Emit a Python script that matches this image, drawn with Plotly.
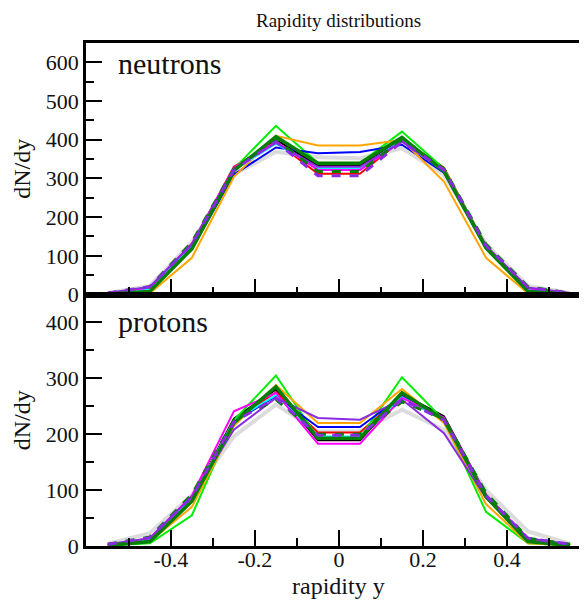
import plotly.graph_objects as go
from plotly.subplots import make_subplots

# rapidity bin centres
rapidity = [-0.55, -0.45, -0.35, -0.25, -0.15, -0.05, 0.05, 0.15, 0.25, 0.35, 0.45, 0.55]

# x tick labels
x_tickvals = [-0.4, -0.2, 0, 0.2, 0.4]
x_ticktext = ["-0.4", "-0.2", "0", "0.2", "0.4"]
x_minorvals = [-0.5, -0.3, -0.1, 0.1, 0.3, 0.5]

# neutrons dN/dy, one list per model
n_gray = [4, 22, 135, 310, 369, 355, 352, 378, 310, 130, 22, 4]
n_black = [2, 15, 125, 322, 400, 333, 333, 405, 320, 122, 14, 2]
n_red = [2, 16, 128, 330, 395, 312, 312, 400, 328, 125, 15, 2]
n_lime = [1, 10, 120, 325, 436, 340, 340, 421, 325, 128, 12, 1]
n_blue = [2, 14, 118, 310, 380, 365, 368, 387, 315, 120, 13, 2]
n_orange = [0, 3, 95, 304, 410, 385, 385, 399, 292, 95, 3, 0]
n_cyan = [2, 15, 125, 322, 390, 326, 326, 398, 318, 122, 14, 2]
n_magenta = [3, 18, 132, 328, 395, 322, 322, 396, 322, 126, 16, 3]
n_purple = [4, 20, 130, 325, 392, 330, 330, 395, 320, 124, 18, 4]
n_dkgreen = [1, 8, 118, 320, 408, 339, 339, 406, 318, 120, 8, 1]
n_dkgreen_dash = [3, 20, 135, 325, 400, 318, 318, 400, 325, 130, 20, 3]
n_purple_dash = [4, 20, 130, 322, 395, 307, 307, 395, 322, 126, 18, 4]

# protons dN/dy
p_gray = [4, 23, 91, 196, 253, 205, 205, 244, 208, 100, 26, 4]
p_black = [2, 12, 85, 228, 280, 189, 189, 272, 232, 92, 12, 2]
p_red = [2, 13, 84, 225, 275, 203, 203, 270, 228, 90, 12, 2]
p_lime = [1, 5, 55, 225, 305, 193, 193, 302, 225, 61, 5, 1]
p_blue = [2, 12, 82, 222, 268, 213, 213, 268, 224, 88, 12, 2]
p_orange = [1, 8, 70, 215, 288, 220, 220, 281, 220, 75, 5, 1]
p_cyan = [2, 12, 84, 224, 270, 196, 196, 266, 226, 90, 12, 2]
p_magenta = [2, 14, 90, 241, 274, 183, 183, 265, 230, 92, 13, 2]
p_purple = [3, 14, 88, 208, 265, 229, 226, 262, 202, 86, 14, 3]
p_dkgreen = [1, 8, 80, 220, 285, 193, 193, 274, 226, 88, 8, 1]
p_dkgreen_dash = [3, 16, 92, 225, 262, 200, 200, 258, 228, 95, 14, 3]
p_purple_dash = [3, 15, 88, 222, 265, 198, 198, 262, 225, 90, 14, 3]

# (color, width, dash) per model
styles = [
    ("#dcdcdc", 4, "solid"),
    ("black", 2, "solid"),
    ("red", 2, "solid"),
    ("#00ee00", 2, "solid"),
    ("blue", 2, "solid"),
    ("orange", 2, "solid"),
    ("cyan", 2, "solid"),
    ("magenta", 2, "solid"),
    ("#8a2be2", 2, "solid"),
    ("#007f00", 3.5, "solid"),
    ("#007f00", 3, "dash"),
    ("#8a2be2", 3, "dash"),
]
neutrons = [n_gray, n_black, n_red, n_lime, n_blue, n_orange, n_cyan,
            n_magenta, n_purple, n_dkgreen, n_dkgreen_dash, n_purple_dash]
protons = [p_gray, p_black, p_red, p_lime, p_blue, p_orange, p_cyan,
           p_magenta, p_purple, p_dkgreen, p_dkgreen_dash, p_purple_dash]

FONT = "Liberation Serif"

fig = make_subplots(rows=2, cols=1, shared_xaxes=True, vertical_spacing=0)

for row, data in ((1, neutrons), (2, protons)):
    for vals, (col, w, dash) in zip(data, styles):
        fig.add_trace(go.Scatter(
            x=rapidity, y=vals, mode="lines",
            line=dict(color=col, width=w, dash=dash),
            showlegend=False
        ), row=row, col=1)

axis_common = dict(
    showgrid=False, zeroline=False, automargin=False,
    showline=True, linecolor="black", linewidth=2.5, mirror=True,
    ticks="inside", ticklen=16, tickwidth=2, tickcolor="black",
    tickfont=dict(family=FONT, size=22, color="#111"),
)

fig.update_xaxes(range=[-0.602, 0.588], tickmode="array",
                 tickvals=x_tickvals, ticktext=x_ticktext,
                 minor=dict(ticks="inside", ticklen=8, tickwidth=2, tickcolor="black",
                            tickmode="array", tickvals=x_minorvals),
                 **axis_common)
fig.update_xaxes(showticklabels=False, row=1, col=1)
fig.update_xaxes(showticklabels=True, ticklabelstandoff=-8, row=2, col=1)

fig.update_yaxes(tick0=0, dtick=100,
                 minor=dict(ticks="inside", ticklen=8, tickwidth=2, tickcolor="black", dtick=50),
                 ticklabelstandoff=0, **axis_common)
fig.update_yaxes(range=[0, 650], row=1, col=1)
fig.update_yaxes(range=[0, 450], row=2, col=1)

txt = dict(family=FONT, color="#111")
annos = [
    dict(text="Rapidity distributions", x=0.504, y=1.044, xref="paper", yref="paper",
         font=dict(size=19, **txt)),
    dict(text="neutrons", x=0.06, y=0.92, xref="x domain", yref="y domain",
         xanchor="left", font=dict(size=30, **txt)),
    dict(text="protons", x=0.06, y=0.892, xref="x2 domain", yref="y2 domain",
         xanchor="left", font=dict(size=30, **txt)),
    dict(text="dN/dy", x=-0.128, y=0.5, xref="paper", yref="y domain",
         textangle=-90, font=dict(size=24, **txt)),
    dict(text="dN/dy", x=-0.128, y=0.5, xref="paper", yref="y2 domain",
         textangle=-90, font=dict(size=24, **txt)),
    dict(text="rapidity y", x=0.504, y=-0.08, xref="paper", yref="paper",
         font=dict(size=24, **txt)),
]
for a in annos:
    a.update(showarrow=False)
    if "xanchor" not in a:
        a["xanchor"] = "center"
    a["yanchor"] = "middle"
    fig.add_annotation(**a)

# the page body adds an 8px margin, so the figure is sized to fit inside it
fig.update_layout(
    width=579, height=593,
    margin=dict(l=78, r=1, t=35, b=55),
    paper_bgcolor="white", plot_bgcolor="white",
    font=dict(family=FONT, color="#111"),
    showlegend=False,
)

fig.write_html("out.html")
